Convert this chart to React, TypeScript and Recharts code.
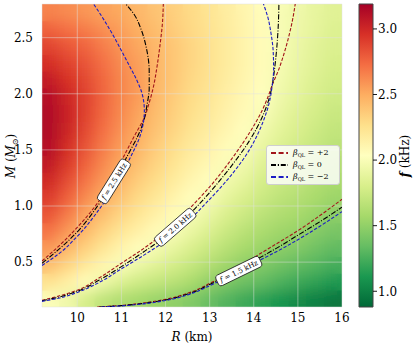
// @ts-nocheck
import React from "react";
import {
  ComposedChart,
  Scatter,
  Line,
  XAxis,
  YAxis,
  CartesianGrid,
  ReferenceDot,
  ReferenceArea,
  Legend,
} from "recharts";

const SERIF = '"DejaVu Serif", "Liberation Serif", serif';

const W = 415;
const H = 349;
const PLOT = { left: 42, top: 4, right: 342, bottom: 307 };

const R_DOMAIN = [9.2, 16];
const M_DOMAIN = [0.1, 2.8];
const R_TICKS = [10, 11, 12, 13, 14, 15, 16];
const M_TICKS = [0.5, 1.0, 1.5, 2.0, 2.5];
const F_TICKS = [1.0, 1.5, 2.0, 2.5, 3.0];
const F_RANGE = [0.88, 3.19];

// heat map cells (centres), f in kHz
const R_CELLS = [9.4, 9.8, 10.2, 10.6, 11.0, 11.4, 11.8, 12.2, 12.6, 13.0, 13.4, 13.8, 14.2, 14.6, 15.0, 15.4, 15.8];
const M_CELLS = [0.175, 0.325, 0.475, 0.625, 0.775, 0.925, 1.075, 1.225, 1.375, 1.525, 1.675, 1.825, 1.975, 2.125, 2.275, 2.425, 2.575, 2.725];
// one column per R cell, bottom -> top
const F_COLUMNS = [
  [2.01, 2.24, 2.42, 2.57, 2.70, 2.81, 2.91, 2.99, 3.06, 3.11, 3.14, 3.14, 3.11, 3.05, 2.97, 2.88, 2.77, 2.65],
  [1.94, 2.15, 2.31, 2.45, 2.57, 2.67, 2.77, 2.85, 2.92, 2.97, 3.01, 3.02, 3.00, 2.95, 2.89, 2.81, 2.72, 2.62],
  [1.79, 2.05, 2.20, 2.33, 2.44, 2.53, 2.62, 2.70, 2.77, 2.82, 2.86, 2.89, 2.89, 2.87, 2.82, 2.76, 2.68, 2.58],
  [1.68, 1.93, 2.10, 2.22, 2.32, 2.42, 2.50, 2.57, 2.63, 2.68, 2.72, 2.75, 2.76, 2.75, 2.72, 2.67, 2.61, 2.54],
  [1.62, 1.83, 2.00, 2.12, 2.22, 2.31, 2.39, 2.46, 2.51, 2.56, 2.60, 2.63, 2.64, 2.64, 2.62, 2.59, 2.55, 2.51],
  [1.57, 1.76, 1.92, 2.04, 2.14, 2.22, 2.29, 2.35, 2.41, 2.46, 2.50, 2.53, 2.56, 2.56, 2.55, 2.52, 2.49, 2.45],
  [1.53, 1.71, 1.85, 1.97, 2.06, 2.14, 2.21, 2.27, 2.32, 2.36, 2.40, 2.43, 2.45, 2.46, 2.46, 2.45, 2.43, 2.40],
  [1.49, 1.66, 1.78, 1.89, 1.99, 2.06, 2.12, 2.18, 2.23, 2.27, 2.31, 2.34, 2.36, 2.38, 2.38, 2.38, 2.36, 2.34],
  [1.44, 1.59, 1.71, 1.81, 1.90, 1.98, 2.04, 2.10, 2.15, 2.19, 2.23, 2.26, 2.28, 2.30, 2.31, 2.31, 2.30, 2.29],
  [1.35, 1.50, 1.63, 1.73, 1.82, 1.90, 1.98, 2.04, 2.09, 2.13, 2.17, 2.20, 2.22, 2.24, 2.25, 2.25, 2.24, 2.23],
  [1.28, 1.43, 1.55, 1.65, 1.73, 1.81, 1.88, 1.95, 2.01, 2.06, 2.10, 2.13, 2.15, 2.17, 2.18, 2.18, 2.18, 2.17],
  [1.22, 1.37, 1.48, 1.58, 1.66, 1.74, 1.81, 1.88, 1.94, 2.00, 2.04, 2.07, 2.09, 2.11, 2.12, 2.12, 2.12, 2.11],
  [1.16, 1.33, 1.44, 1.53, 1.60, 1.67, 1.74, 1.79, 1.85, 1.90, 1.95, 2.00, 2.03, 2.05, 2.06, 2.06, 2.06, 2.05],
  [1.10, 1.27, 1.38, 1.48, 1.55, 1.62, 1.68, 1.73, 1.78, 1.83, 1.87, 1.91, 1.94, 1.96, 1.98, 1.99, 1.99, 1.99],
  [1.05, 1.22, 1.33, 1.44, 1.52, 1.58, 1.64, 1.69, 1.73, 1.77, 1.81, 1.84, 1.87, 1.89, 1.91, 1.92, 1.93, 1.94],
  [1.00, 1.17, 1.29, 1.38, 1.46, 1.53, 1.59, 1.63, 1.68, 1.72, 1.75, 1.78, 1.81, 1.83, 1.85, 1.86, 1.88, 1.89],
  [0.95, 1.12, 1.24, 1.33, 1.41, 1.48, 1.54, 1.59, 1.63, 1.67, 1.70, 1.73, 1.76, 1.78, 1.80, 1.82, 1.83, 1.85],
];

// contour lines [R, M], ordered bottom -> top
const F25_BETA_P2 = [[9.2, 0.51], [9.6, 0.65], [10.0, 0.81], [10.41, 1.0], [10.8, 1.25], [11.13, 1.5], [11.33, 1.65], [11.5, 1.77], [11.63, 1.92], [11.73, 2.07], [11.81, 2.25], [11.88, 2.45], [11.93, 2.63], [11.95, 2.8]];
const F25_BETA_0 = [[9.2, 0.49], [9.6, 0.62], [10.0, 0.77], [10.46, 1.0], [10.85, 1.24], [11.18, 1.48], [11.38, 1.63], [11.5, 1.75], [11.58, 1.9], [11.63, 2.05], [11.63, 2.2], [11.57, 2.4], [11.45, 2.57], [11.3, 2.7], [11.1, 2.8]];
const F25_BETA_M2 = [[9.2, 0.47], [9.6, 0.58], [10.0, 0.73], [10.55, 1.0], [10.95, 1.25], [11.25, 1.47], [11.42, 1.62], [11.5, 1.75], [11.52, 1.85], [11.47, 2.0], [11.35, 2.12], [11.18, 2.25], [10.98, 2.4], [10.77, 2.55], [10.57, 2.68], [10.37, 2.8]];

const F20_BETA_P2 = [[9.2, 0.16], [9.6, 0.2], [10.0, 0.25], [10.5, 0.36], [11.0, 0.49], [11.5, 0.62], [12.0, 0.77], [12.5, 0.96], [13.0, 1.17], [13.5, 1.42], [13.9, 1.65], [14.2, 1.86], [14.33, 1.98], [14.42, 2.08], [14.55, 2.2], [14.68, 2.35], [14.8, 2.52], [14.88, 2.66], [14.94, 2.8]];
const F20_BETA_0 = [[9.2, 0.155], [9.6, 0.19], [10.0, 0.24], [10.5, 0.34], [11.0, 0.46], [11.5, 0.59], [12.0, 0.73], [12.5, 0.91], [13.0, 1.12], [13.5, 1.36], [13.9, 1.58], [14.2, 1.8], [14.35, 1.96], [14.42, 2.08], [14.48, 2.25], [14.53, 2.45], [14.56, 2.65], [14.57, 2.8]];
const F20_BETA_M2 = [[9.2, 0.15], [9.6, 0.18], [10.0, 0.23], [10.5, 0.32], [11.0, 0.44], [11.5, 0.56], [12.0, 0.69], [12.5, 0.86], [13.0, 1.06], [13.5, 1.28], [13.9, 1.5], [14.2, 1.74], [14.35, 1.92], [14.42, 2.08], [14.45, 2.22], [14.44, 2.38], [14.39, 2.54], [14.32, 2.68], [14.22, 2.8]];

const F15_BETA_P2 = [[10.45, 0.1], [11.0, 0.114], [11.5, 0.136], [12.0, 0.168], [12.5, 0.222], [13.0, 0.31], [13.5, 0.42], [14.0, 0.54], [14.5, 0.66], [15.0, 0.78], [15.5, 0.915], [16.0, 1.06]];
const F15_BETA_0 = [[10.5, 0.1], [11.0, 0.112], [11.5, 0.132], [12.0, 0.163], [12.5, 0.215], [13.0, 0.3], [13.5, 0.4], [14.0, 0.51], [14.5, 0.62], [15.0, 0.74], [15.5, 0.86], [16.0, 0.99]];
const F15_BETA_M2 = [[10.55, 0.1], [11.0, 0.11], [11.5, 0.128], [12.0, 0.158], [12.5, 0.208], [13.0, 0.29], [13.5, 0.385], [14.0, 0.49], [14.5, 0.59], [15.0, 0.7], [15.5, 0.82], [16.0, 0.95]];

const BETA_LABELS = ["+2", "0", "\u22122"];
const BETA_COLORS = ["#a3161b", "#000000", "#1c1cc4"];

const TAG_LEVELS = ["2.5", "2.0", "1.5"];
const TAG_R = [10.83, 12.22, 13.66];
const TAG_M = [1.22, 0.81, 0.42];
const TAG_ANGLE = [-58, -41, -26];

const RDYLGN = ["#a50026", "#d73027", "#f46d43", "#fdae61", "#fee08b", "#ffffbf", "#d9ef8b", "#a6d96a", "#66bd63", "#1a9850", "#006837"];

const hex = (h) => [1, 3, 5].map((i) => parseInt(h.slice(i, i + 2), 16));
const heatColor = (v) => {
  const t = Math.min(1, Math.max(0, (F_RANGE[1] - v) / (F_RANGE[1] - F_RANGE[0]))) * 10;
  const i = Math.min(9, Math.floor(t));
  const u = t - i;
  const a = hex(RDYLGN[i]);
  const b = hex(RDYLGN[i + 1]);
  const c = a.map((x, k) => Math.round(x + (b[k] - x) * u));
  return `rgb(${c[0]},${c[1]},${c[2]})`;
};

const heatData = [];
R_CELLS.forEach((r, i) =>
  M_CELLS.forEach((m, j) => heatData.push({ R: r, M: m, f: F_COLUMNS[i][j] }))
);

const toPts = (arr) => arr.map(([R, M]) => ({ R, M }));
const CONTOURS = [
  { id: "f25p2", pts: F25_BETA_P2, beta: 0 },
  { id: "f25z", pts: F25_BETA_0, beta: 1 },
  { id: "f25m2", pts: F25_BETA_M2, beta: 2 },
  { id: "f20p2", pts: F20_BETA_P2, beta: 0 },
  { id: "f20z", pts: F20_BETA_0, beta: 1 },
  { id: "f20m2", pts: F20_BETA_M2, beta: 2 },
  { id: "f15p2", pts: F15_BETA_P2, beta: 0 },
  { id: "f15z", pts: F15_BETA_0, beta: 1 },
  { id: "f15m2", pts: F15_BETA_M2, beta: 2 },
];
const LINE_DASH = ["3.4 1.7", "5.2 1.6 1 1.6", "3.4 1.7"];
const LEGEND_DASH = ["5 2.6", "5 1.8 1.2 1.8", "5 2.6"];

// minor tick positions
const R_MINOR = [];
for (let k = 37; k <= 64; k++) if (k % 4 !== 0) R_MINOR.push(k / 4);
const M_MINOR = [];
for (let k = 2; k <= 27; k++) if (k % 5 !== 0) M_MINOR.push(k / 10);

const cellW = (0.4 / (R_DOMAIN[1] - R_DOMAIN[0])) * (PLOT.right - PLOT.left) + 0.8;
const cellH = (0.15 / (M_DOMAIN[1] - M_DOMAIN[0])) * (PLOT.bottom - PLOT.top) + 0.8;

const HeatCell = (p) => (
  <rect
    x={p.cx - cellW / 2}
    y={p.cy - cellH / 2}
    width={cellW}
    height={cellH}
    fill={heatColor(p.payload.f)}
  />
);

const ContourTag = ({ cx, cy, angle, level }) => (
  <g transform={`translate(${cx},${cy}) rotate(${angle})`}>
    <rect x={-24} y={-5.8} width={48} height={11.6} rx={3} fill="#fff" stroke="#222" strokeWidth={0.8} />
    <text x={0} y={2.6} textAnchor="middle" fontSize={7.2} fontFamily={SERIF} fill="#000" style={{ fontFamily: SERIF }}>
      <tspan fontStyle="italic">f</tspan> = {level} kHz
    </text>
  </g>
);

const LegendBox = () => (
  <div
    style={{
      width: 74,
      height: 40,
      boxSizing: "border-box",
      background: "rgba(255,255,255,0.82)",
      border: "1px solid #cfcfcf",
      borderRadius: 3,
      paddingTop: 1,
      fontFamily: SERIF,
    }}
  >
    {BETA_LABELS.map((lab, i) => (
      <div key={lab} style={{ display: "flex", alignItems: "center", height: 12 }}>
        <svg width={22} height={8} style={{ marginLeft: 2 }}>
          <line x1={2} y1={4} x2={19} y2={4} stroke={BETA_COLORS[i]} strokeWidth={1.8} strokeDasharray={LEGEND_DASH[i]} />
        </svg>
        <span style={{ fontSize: 8, marginLeft: 2, color: "#000", whiteSpace: "nowrap" }}>
          <i>β</i>
          <span style={{ fontSize: 5, verticalAlign: "-2px" }}>QL</span> = {lab}
        </span>
      </div>
    ))}
  </div>
);

const tickFont = { fontSize: 12, fill: "#000", fontFamily: SERIF, style: { fontFamily: SERIF } };
const tickLineStyle = { stroke: "#000", strokeWidth: 0.9 };
const frame = { stroke: "#222", strokeWidth: 1 };

export default function App() {
  return (
    <div style={{ position: "absolute", left: 0, top: 0, width: W, height: H, background: "#fff", fontFamily: SERIF }}>
      <style>{`.heat-blur { filter: url(#heatBlur); } .recharts-text { font-family: ${SERIF}; }`}</style>
      <svg width={0} height={0} style={{ position: "absolute" }}>
        <defs>
          <filter id="heatBlur" x="0" y="0" width="1" height="1">
            <feGaussianBlur stdDeviation="7" />
          </filter>
          <linearGradient id="cbGrad" x1="0" y1="0" x2="0" y2="1">
            {RDYLGN.map((c, i) => (
              <stop key={i} offset={`${i * 10}%`} stopColor={c} />
            ))}
          </linearGradient>
        </defs>
      </svg>

      <ComposedChart
        width={W}
        height={H}
        margin={{ top: PLOT.top, right: W - PLOT.right, bottom: 12, left: 8 }}
        style={{ position: "absolute", left: 0, top: 0 }}
      >
        <Scatter
          xAxisId="x"
          yAxisId="y"
          data={heatData}
          shape={HeatCell}
          isAnimationActive={false}
          legendType="none"
          zIndex={-300}
        />
        <Scatter
          xAxisId="x"
          yAxisId="y"
          data={heatData}
          shape={HeatCell}
          className="heat-blur"
          isAnimationActive={false}
          legendType="none"
          zIndex={-250}
        />
        <CartesianGrid
          xAxisId="x"
          yAxisId="y"
          stroke="#e2e2e2"
          strokeOpacity={0.6}
          strokeWidth={0.8}
          zIndex={-100}
        />
        {CONTOURS.map((c) => (
          <Line
            key={c.id}
            xAxisId="x"
            yAxisId="y"
            data={toPts(c.pts)}
            dataKey="M"
            type="monotoneY"
            stroke={BETA_COLORS[c.beta]}
            strokeWidth={1.1}
            strokeDasharray={LINE_DASH[c.beta]}
            dot={false}
            activeDot={false}
            legendType="none"
            isAnimationActive={false}
          />
        ))}
        {TAG_LEVELS.map((lv, i) => (
          <ReferenceDot
            key={lv}
            xAxisId="x"
            yAxisId="y"
            x={TAG_R[i]}
            y={TAG_M[i]}
            r={0}
            ifOverflow="visible"
            zIndex={1500}
            shape={(p) => <ContourTag cx={p.cx} cy={p.cy} angle={TAG_ANGLE[i]} level={lv} />}
          />
        ))}

        <XAxis
          xAxisId="x"
          type="number"
          dataKey="R"
          domain={R_DOMAIN}
          allowDataOverflow
          ticks={R_TICKS}
          interval={0}
          height={30}
          axisLine={false}
          tickLine={false}
          tickSize={0}
          tickMargin={6}
          tick={tickFont}
        />
        <YAxis
          yAxisId="y"
          type="number"
          dataKey="M"
          domain={M_DOMAIN}
          allowDataOverflow
          ticks={M_TICKS}
          interval={0}
          width={34}
          axisLine={false}
          tickLine={false}
          tickSize={0}
          tickMargin={9}
          tickFormatter={(v) => v.toFixed(1)}
          tick={tickFont}
        />

        <XAxis xAxisId="xb1" orientation="bottom" mirror type="number" domain={R_DOMAIN} allowDataOverflow ticks={R_TICKS} interval={0} height={0} tick={false} tickSize={5} tickLine={tickLineStyle} axisLine={frame} />
        <XAxis xAxisId="xb2" orientation="bottom" mirror type="number" domain={R_DOMAIN} allowDataOverflow ticks={R_MINOR} interval={0} height={0} tick={false} tickSize={3} tickLine={tickLineStyle} axisLine={false} />
        <XAxis xAxisId="xt1" orientation="top" mirror type="number" domain={R_DOMAIN} allowDataOverflow ticks={R_TICKS} interval={0} height={0} tick={false} tickSize={5} tickLine={tickLineStyle} axisLine={frame} />
        <XAxis xAxisId="xt2" orientation="top" mirror type="number" domain={R_DOMAIN} allowDataOverflow ticks={R_MINOR} interval={0} height={0} tick={false} tickSize={3} tickLine={tickLineStyle} axisLine={false} />
        <YAxis yAxisId="yl1" orientation="left" mirror type="number" domain={M_DOMAIN} allowDataOverflow ticks={M_TICKS} interval={0} width={0} tick={false} tickSize={5} tickLine={tickLineStyle} axisLine={frame} />
        <YAxis yAxisId="yl2" orientation="left" mirror type="number" domain={M_DOMAIN} allowDataOverflow ticks={M_MINOR} interval={0} width={0} tick={false} tickSize={3} tickLine={tickLineStyle} axisLine={false} />
        <YAxis yAxisId="yr1" orientation="right" mirror type="number" domain={M_DOMAIN} allowDataOverflow ticks={M_TICKS} interval={0} width={0} tick={false} tickSize={5} tickLine={tickLineStyle} axisLine={frame} />
        <YAxis yAxisId="yr2" orientation="right" mirror type="number" domain={M_DOMAIN} allowDataOverflow ticks={M_MINOR} interval={0} width={0} tick={false} tickSize={3} tickLine={tickLineStyle} axisLine={false} />

        <Legend
          layout="horizontal"
          verticalAlign="middle"
          align="center"
          content={LegendBox}
          wrapperStyle={{ left: 266, top: 145, width: 74, height: 40 }}
        />
      </ComposedChart>

      {/* colour bar */}
      <ComposedChart
        width={70}
        height={H}
        data={[{ x: 0 }, { x: 1 }]}
        margin={{ top: PLOT.top, right: 14, bottom: H - PLOT.bottom, left: 14 }}
        style={{ position: "absolute", left: 345, top: 0 }}
      >
        <XAxis dataKey="x" type="number" domain={[0, 1]} hide />
        <YAxis
          yAxisId="cb"
          orientation="right"
          type="number"
          domain={F_RANGE}
          allowDataOverflow
          ticks={F_TICKS}
          interval={0}
          width={28}
          axisLine={false}
          tickSize={4}
          tickMargin={1}
          tickLine={tickLineStyle}
          tickFormatter={(v) => v.toFixed(1)}
          tick={tickFont}
        />
        <ReferenceArea
          yAxisId="cb"
          x1={0}
          x2={1}
          y1={F_RANGE[0]}
          y2={F_RANGE[1]}
          fill="url(#cbGrad)"
          fillOpacity={1}
          stroke="#444"
          strokeWidth={1}
          ifOverflow="visible"
        />
      </ComposedChart>

      {/* axis titles */}
      <svg width={W} height={H} style={{ position: "absolute", left: 0, top: 0, pointerEvents: "none", fontFamily: SERIF }}>
        <text x={192} y={341} textAnchor="middle" fontSize={12} fill="#000">
          <tspan fontStyle="italic">R</tspan> (km)
        </text>
        <text transform="translate(15,156) rotate(-90)" textAnchor="middle" fontSize={12} fill="#000">
          <tspan fontStyle="italic">M</tspan> (<tspan fontStyle="italic">M</tspan>
          <tspan fontSize={8} dy={3}>⊙</tspan>
          <tspan dy={-3}>)</tspan>
        </text>
        <text transform="translate(409,156) rotate(-90)" textAnchor="middle" fontSize={12} fill="#000">
          <tspan fontStyle="italic" fontWeight="bold">f</tspan> (kHz)
        </text>
      </svg>
    </div>
  );
}
